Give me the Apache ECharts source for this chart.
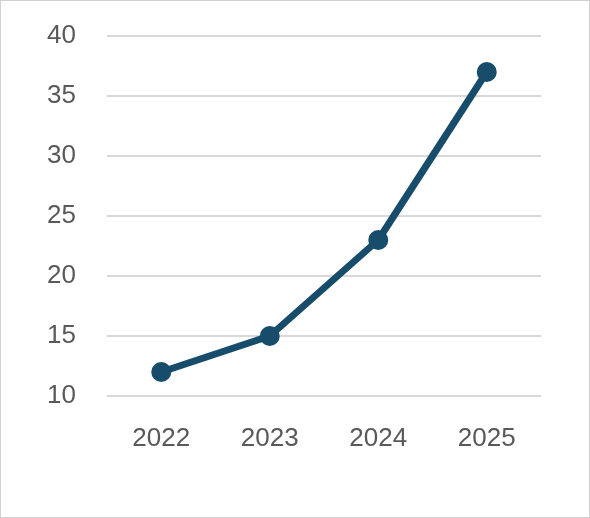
<!DOCTYPE html>
<html><head><meta charset="utf-8">
<script src="https://cdn.jsdelivr.net/npm/echarts@6/dist/echarts.min.js"></script>
<style>html,body{margin:0;padding:0;background:#fff}#c{width:588px;height:516px;border:1px solid #d0d0d0}</style>
</head><body><div id="c"></div>
<script>
const categories = ['2022','2023','2024','2025'];
const values = [12,15,23,37];
const yTicks = {min:10,max:40,interval:5};
const chart = echarts.init(document.getElementById('c'));
chart.setOption({
  animation:false,
  grid:{left:106,right:48,top:35,bottom:121},
  xAxis:{type:'category',data:categories,boundaryGap:true,
    axisLine:{show:true,lineStyle:{color:'#d9d9d9',width:1.5}},axisTick:{show:false},
    axisLabel:{color:'#595959',fontSize:26,fontFamily:'Liberation Sans, Arial',margin:30}},
  yAxis:{type:'value',min:yTicks.min,max:yTicks.max,interval:yTicks.interval,
    axisLine:{show:false},axisTick:{show:false},
    splitLine:{lineStyle:{color:'#d9d9d9',width:2}},
    axisLabel:{color:'#595959',fontSize:26,fontFamily:'Liberation Sans, Arial',margin:31}},
  series:[{type:'line',data:values,symbol:'circle',symbolSize:20,
    lineStyle:{color:'#174d6b',width:7},itemStyle:{color:'#174d6b'}}]
});
</script></body></html>
